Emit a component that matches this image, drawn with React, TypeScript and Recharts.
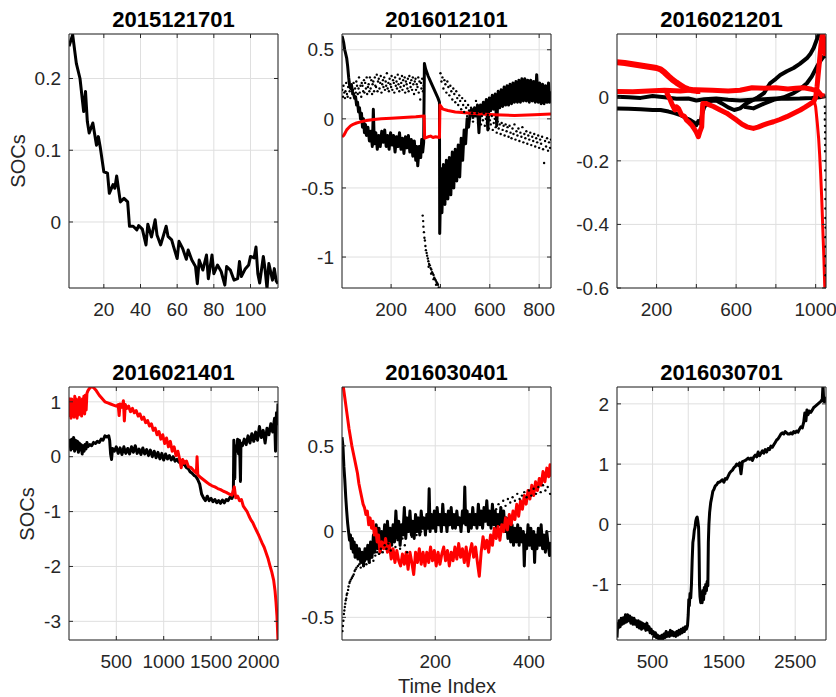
import React from "react";
import { ComposedChart, Line, Scatter, XAxis, YAxis, CartesianGrid } from "recharts";

type P = [number, number];

// ---- 2015121701
const p1Black: P[] = [[1,0.245],[3,0.261],[5,0.221],[7,0.2],[9,0.154],[10,0.182],[11,0.14],[12,0.124],[14,0.138],[16,0.107],[17,0.119],[18,0.105],[20,0.07],[22,0.068],[23,0.04],[25,0.052],[26,0.047],[27,0.064],[29,0.028],[31,0.033],[33,0.028],[34,-0.006],[36,-0.006],[38,-0.011],[39,-0.005],[41,-0.01],[43,-0.032],[44,-0.003],[46,-0.021],[48,0.003],[49,-0.018],[51,-0.032],[54,-0.006],[55,-0.02],[57,-0.025],[58,-0.034],[60,-0.051],[61,-0.027],[63,-0.037],[65,-0.052],[66,-0.039],[68,-0.053],[70,-0.062],[71,-0.086],[72,-0.053],[74,-0.067],[76,-0.046],[77,-0.079],[79,-0.046],[80,-0.072],[82,-0.06],[84,-0.069],[86,-0.088],[87,-0.062],[89,-0.067],[91,-0.081],[93,-0.079],[94,-0.055],[95,-0.076],[97,-0.066],[99,-0.06],[100,-0.048],[102,-0.05],[103,-0.035],[104,-0.072],[105,-0.085],[107,-0.048],[108,-0.067],[109,-0.093],[110,-0.058],[112,-0.081],[113,-0.065],[114,-0.082],[115,-0.086]];

// ---- 2016012101
const p2Black: P[] = [[1,0.6],[4,0.58],[8,0.55],[12,0.5],[16,0.47],[20,0.44],[24,0.38],[28,0.3],[32,0.24],[36,0.22],[40,0.24],[44,0.19],[48,0.18],[52,0.15],[56,0.16],[60,0.1],[64,0.12],[68,0.05],[72,0.08],[76,0.0],[80,0.04],[84,-0.06],[88,0.0],[92,-0.1],[96,-0.04],
  [100,-0.12],[106,-0.06],[112,-0.16],[118,-0.09],[124,-0.2],[128,0.07],[132,-0.18],[138,-0.1],[144,-0.22],[150,-0.12],[156,-0.2],[162,-0.09],[168,-0.17],[174,-0.08],[180,-0.2],[186,-0.12],[192,-0.22],[198,-0.1],[204,-0.19],[210,-0.12],[216,-0.24],[222,-0.13],[228,-0.2],[234,-0.1],[240,-0.22],[246,-0.14],[252,-0.25],[258,-0.13],[264,-0.21],[270,-0.12],[276,-0.24],[282,-0.15],[288,-0.27],[294,-0.16],[300,-0.3],[304,-0.2],[308,-0.34],[314,-0.2],[320,-0.28],[324,-0.15],[328,-0.24],[332,-0.17],
  [335,0.4],[340,0.36],[350,0.31],[360,0.27],[370,0.23],[380,0.19],[390,0.15],[396,0.12],
  [397,-0.83],[402,-0.36],[406,-0.68],[412,-0.33],[418,-0.62],[424,-0.3],[430,-0.58],[436,-0.28],[442,-0.55],[448,-0.24],[454,-0.5],[460,-0.22],[466,-0.45],[472,-0.19],[478,-0.42],[484,-0.14],[490,-0.3],[496,-0.08],[502,-0.18],[508,0.0],[514,-0.06],
  [520,0.04],[526,0.07],[532,0.01],[538,0.08],[544,0.02],[550,0.1],[556,-0.1],[562,0.1],[568,0.04],[574,0.12],[580,0.05],[586,0.14],[592,-0.08],[598,0.15],[604,0.06],[610,0.17],[616,0.07],[622,0.18],[628,-0.05],[634,0.2],[640,0.08],[646,0.21],[652,0.09],[658,0.23],[664,0.1],[670,0.24],[676,0.1],[682,0.25],[688,0.11],[694,0.26],[700,0.12],[706,0.27],[712,0.12],[718,0.28],[724,0.12],[730,0.29],[736,0.13],[742,0.29],[748,0.13],[754,0.28],[760,0.12],[766,0.28],[772,0.13],[778,0.27],[784,0.12],[790,0.32],[796,0.12],[802,0.26],[808,0.11],[814,0.25],[820,0.11],[826,0.24],[832,0.12],[838,0.26],[842,0.12],[848,0.2]];
const p2Red: P[] = [[1,-0.13],[8,-0.12],[14,-0.1],[20,-0.08],[28,-0.065],[36,-0.05],[46,-0.04],[60,-0.03],[80,-0.02],[100,-0.012],[130,-0.005],[160,0.0],[200,0.005],[250,0.01],[300,0.015],[334,0.02],[336,-0.14],[350,-0.13],[360,-0.125],[370,-0.135],[380,-0.13],[396,-0.135],[398,0.1],[410,0.07],[430,0.06],[460,0.05],[500,0.045],[560,0.035],[620,0.03],[700,0.025],[780,0.03],[848,0.035]];
const p2DotsA: P[] = [[2,0.21],[5,0.16],[7,0.24],[10,0.19],[13,0.15],[15,0.2],[18,0.26],[21,0.18],[24,0.16],[26,0.23],[29,0.27],[32,0.2],[35,0.15],[37,0.23],[40,0.25],[43,0.18],[46,0.21],[48,0.26],[51,0.16],[54,0.22],[57,0.19],[59,0.27],[62,0.24],[65,0.18],[68,0.22],[70,0.3],[73,0.19],[76,0.24],[79,0.16],[81,0.26],[84,0.24],[87,0.2],[90,0.28],[92,0.19],[95,0.26],[98,0.22],[101,0.3],[103,0.18],[106,0.23],[109,0.25],[112,0.2],[114,0.3],[117,0.22],[120,0.28],[123,0.18],[125,0.25],[128,0.27],[131,0.2],[134,0.3],[136,0.24],[139,0.23],[142,0.32],[145,0.2],[147,0.27],[150,0.29],[153,0.22],[156,0.26],[158,0.31],[161,0.19],[164,0.25],[167,0.28],[169,0.23],[172,0.3],[175,0.21],[178,0.27],[180,0.24],[183,0.33],[186,0.22],[189,0.26],[191,0.2],[194,0.29],[197,0.25],[200,0.23],[202,0.31],[205,0.21],[208,0.28],[211,0.26],[213,0.19],[216,0.3],[219,0.24],[222,0.27],[224,0.22],[227,0.32],[230,0.25],[233,0.2],[235,0.29],[238,0.23],[241,0.26],[244,0.31],[246,0.21],[249,0.28],[252,0.24],[255,0.3],[257,0.19],[260,0.27],[263,0.25],[266,0.22],[268,0.29],[271,0.2],[274,0.31],[277,0.26],[279,0.23],[282,0.28],[285,0.21],[288,0.3],[290,0.25],[293,0.18],[296,0.27],[299,0.29],[301,0.21],[304,0.25],[307,0.23],[310,0.3],[312,0.19],[315,0.27],[318,0.14],[321,0.26],[323,0.22],[326,0.29],[329,0.2],[332,0.24]];
const p2DotsB: P[] = [[400,0.33],[404,0.27],[408,0.3],[412,0.22],[416,0.28],[420,0.25],[424,0.19],[428,0.27],[432,0.23],[436,0.17],[440,0.24],[444,0.2],[448,0.14],[452,0.22],[456,0.18],[460,0.12],[464,0.2],[468,0.15],[472,0.1],[476,0.17],[480,0.13],[484,0.07],[488,0.15],[492,0.1],[496,0.05],[500,0.13],[504,0.08],[508,0.02],[512,0.1],[516,0.06],[520,0.0],[524,0.08],[528,0.04],[532,-0.02],[536,0.06],[540,0.02],[544,0.13],[548,0.04],[552,-0.03],[556,0.01],[560,0.05],[564,-0.04],[568,0.02],[572,-0.01],[576,0.04],[580,-0.05],[584,0.0],[588,-0.03],[592,0.03],[596,-0.07],[600,-0.01],[604,-0.04],[608,0.02],[612,-0.08],[616,-0.03],[620,0.0],[624,-0.06],[628,-0.1],[632,-0.02],[636,-0.07],[640,-0.04],[644,-0.11],[648,-0.03],[652,-0.08],[656,-0.05],[660,-0.12],[664,-0.04],[668,-0.09],[672,-0.06],[676,-0.13],[680,-0.05],[684,-0.1],[688,-0.14],[692,-0.07],[696,-0.11],[700,-0.04],[704,-0.15],[708,-0.09],[712,-0.12],[716,-0.07],[720,-0.16],[724,-0.1],[728,-0.13],[732,-0.06],[736,-0.17],[740,-0.11],[744,-0.14],[748,-0.09],[752,-0.18],[756,-0.12],[760,-0.15],[764,-0.1],[768,-0.19],[772,-0.13],[776,-0.16],[780,-0.11],[784,-0.2],[788,-0.14],[792,-0.17],[796,-0.12],[800,-0.21],[804,-0.15],[808,-0.18],[812,-0.13],[816,-0.22],[820,-0.32],[824,-0.16],[828,-0.2],[832,-0.14],[836,-0.23],[840,-0.17],[844,-0.21],[848,-0.15]];
const p2DotsC: P[] = [[328,-0.7],[330,-0.74],[331,-0.78],[333,-0.82],[335,-0.86],[337,-0.88],[339,-0.92],[341,-0.95],[344,-0.97],[346,-0.99],[349,-1.01],[351,-1.03],[354,-1.05],[357,-1.06],[360,-1.08],[363,-1.09],[366,-1.11],[369,-1.12],[372,-1.13],[375,-1.15],[378,-1.16],[381,-1.17],[384,-1.18],[387,-1.19],[390,-1.2],[393,-1.22],[396,-1.23],[352,-1.07],[362,-1.12],[372,-1.16],[382,-1.2],[392,-1.24]];

// ---- 2016021201
const p3BlackA: P[] = [[1,0.002],[60,0.0],[120,-0.002],[180,0.004],[240,0.0],[300,-0.005],[360,-0.004],[400,-0.01],[440,-0.006],[500,-0.004],[560,-0.008],[620,-0.01],[680,-0.008],[740,-0.006],[800,-0.004],[860,-0.005],[920,-0.004],[980,-0.002],[1020,0.0],[1050,0.004]];
const p3BlackB: P[] = [[1,-0.035],[60,-0.036],[120,-0.038],[180,-0.04],[220,-0.04],[260,-0.045],[290,-0.05],[320,-0.056],[350,-0.066],[370,-0.072],[390,-0.08],[400,-0.088],[410,-0.075],[420,-0.082],[430,-0.05],[440,-0.03],[470,-0.012],[500,-0.01],[530,-0.02],[560,-0.032],[590,-0.04],[620,-0.035],[650,-0.02],[680,-0.01],[710,0.0],[740,0.013],[771,0.044],[800,0.058],[822,0.07],[855,0.082],[889,0.092],[920,0.105],[956,0.123],[975,0.138],[990,0.155],[1005,0.18],[1015,0.197],[1025,0.196],[1035,0.185],[1045,0.16],[1050,0.14]];
const p3BlackC: P[] = [[640,-0.03],[687,-0.035],[740,-0.02],[788,-0.008],[840,0.0],[889,0.013],[920,0.025],[956,0.044],[980,0.065],[1007,0.097],[1025,0.115],[1040,0.128],[1050,0.13]];
const p3RedA: P[] = [[1,0.11],[40,0.108],[80,0.104],[120,0.1],[160,0.096],[200,0.092],[220,0.088],[240,0.078],[260,0.066],[280,0.055],[300,0.046],[320,0.038],[340,0.03],[360,0.025],[380,0.022],[400,0.02],[420,0.02]];
const p3RedB: P[] = [[1,0.018],[80,0.017],[160,0.02],[240,0.022],[320,0.02],[400,0.024],[480,0.022],[560,0.02],[620,0.022],[680,0.03],[740,0.028],[800,0.03],[860,0.026],[900,0.028],[940,0.03],[980,0.025],[1010,0.02],[1030,0.005],[1045,0.005]];
const p3RedC: P[] = [[250,0.015],[270,-0.01],[280,-0.025],[292,-0.04],[300,-0.03],[310,-0.035],[326,-0.056],[340,-0.06],[351,-0.072],[365,-0.08],[376,-0.087],[385,-0.095],[393,-0.103],[400,-0.11],[410,-0.124],[418,-0.108],[427,-0.093],[432,-0.02],[450,-0.02],[486,-0.029],[520,-0.04],[553,-0.05],[580,-0.062],[603,-0.072],[630,-0.085],[654,-0.093],[687,-0.098],[710,-0.094],[738,-0.087],[760,-0.082],[788,-0.077],[820,-0.07],[855,-0.061],[890,-0.05],[923,-0.04],[945,-0.032],[965,-0.024],[990,-0.014],[1000,0.0],[1007,0.034],[1014,0.08],[1020,0.118],[1026,0.16],[1032,0.192],[1036,0.196],[1040,0.186],[1045,0.15],[1050,0.13]];
const p3RedD: P[] = [[990,-0.005],[1000,-0.03],[1008,-0.08],[1015,-0.13],[1020,-0.18],[1025,-0.24],[1030,-0.31],[1034,-0.38],[1038,-0.45],[1041,-0.5],[1044,-0.56],[1046,-0.6],[1048,-0.62]];
const p3Dots: P[] = [[1046,-0.03],[1047,-0.05],[1046,-0.07],[1047,-0.09],[1048,-0.11],[1047,-0.13],[1048,-0.15],[1047,-0.17],[1048,-0.2],[1048,-0.23],[1049,-0.26],[1048,-0.29],[1049,-0.32],[1049,-0.35],[1049,-0.38],[1050,-0.41],[1049,-0.44],[1050,-0.47],[1050,-0.5],[1050,-0.53],[1050,-0.56]];

// ---- 2016021401
const p4Black: P[] = [[1,0.18],[10,0.3],[20,0.12],[30,0.32],[40,0.15],[50,0.35],[60,0.1],[70,0.3],[80,0.14],[90,0.28],[100,0.08],[110,0.25],[120,0.12],[130,0.22],[140,0.05],[150,0.2],[160,0.1],[170,0.22],[180,0.14],[190,0.26],[200,0.18],[220,0.22],[240,0.2],[260,0.26],[280,0.24],[300,0.28],[320,0.26],[340,0.32],[360,0.3],[380,0.38],[400,0.36],[420,0.38],[430,0.3],[440,0.05],[450,-0.05],[460,0.15],[480,0.1],[500,0.18],[520,0.06],[540,0.16],[560,0.04],[580,0.18],[600,0.06],[620,0.15],[640,0.05],[660,0.18],[680,0.08],[700,0.2],[720,0.06],[740,0.14],[760,0.04],[780,0.16],[800,0.05],[820,0.13],[840,0.02],[860,0.12],[880,0.0],[900,0.1],[920,-0.02],[940,0.08],[960,-0.04],[980,0.06],[1000,-0.06],[1020,0.05],[1040,-0.04],[1060,0.02],[1080,-0.06],[1100,0.0],[1120,-0.08],[1140,-0.05],[1160,-0.1],[1180,-0.08],[1200,-0.14],[1220,-0.15],[1240,-0.2],[1260,-0.22],[1280,-0.28],[1300,-0.3],[1320,-0.34],[1340,-0.36],[1360,-0.42],[1380,-0.5],[1400,-0.68],[1420,-0.75],[1440,-0.8],[1460,-0.72],[1480,-0.8],[1500,-0.76],[1520,-0.82],[1540,-0.78],[1560,-0.84],[1580,-0.8],[1600,-0.85],[1620,-0.79],[1640,-0.84],[1660,-0.78],[1680,-0.8],[1700,-0.74],[1720,-0.76],[1735,-0.7],[1740,0.3],[1750,-0.4],[1755,0.2],[1770,0.1],[1780,0.32],[1790,0.05],[1800,0.3],[1810,-0.45],[1815,0.25],[1830,0.2],[1850,0.32],[1870,0.22],[1890,0.38],[1910,0.25],[1930,0.42],[1950,0.28],[1970,0.45],[1990,0.3],[2010,0.55],[2030,0.35],[2050,0.48],[2070,0.25],[2090,0.52],[2110,0.4],[2130,0.6],[2150,0.45],[2170,0.7],[2180,0.1],[2190,0.8],[2200,0.6],[2206,0.97]];
const p4Red: P[] = [[1,1.08],[8,0.75],[15,1.02],[22,0.7],[30,1.05],[38,0.78],[46,1.0],[54,0.72],[62,1.1],[70,0.8],[78,1.05],[86,0.7],[94,0.98],[102,0.76],[110,1.08],[118,0.8],[126,1.02],[134,0.74],[142,1.05],[150,0.82],[158,1.1],[166,0.78],[174,1.12],[182,0.85],[190,1.15],[200,1.2],[215,1.24],[237,1.28],[260,1.26],[290,1.2],[320,1.12],[350,1.06],[380,1.0],[410,0.98],[440,0.96],[470,0.94],[500,0.92],[520,0.95],[530,0.75],[540,0.96],[560,0.9],[575,1.02],[585,0.65],[595,0.95],[610,0.88],[630,0.92],[650,0.82],[670,0.88],[690,0.8],[710,0.84],[730,0.74],[750,0.78],[770,0.68],[790,0.72],[810,0.62],[830,0.66],[850,0.56],[870,0.6],[890,0.48],[910,0.52],[930,0.4],[950,0.46],[970,0.32],[990,0.4],[1010,0.24],[1030,0.34],[1050,0.18],[1070,0.28],[1090,0.1],[1110,0.18],[1130,0.02],[1150,0.1],[1170,-0.06],[1185,-0.2],[1200,-0.05],[1220,-0.12],[1240,-0.08],[1260,-0.18],[1290,-0.2],[1320,-0.26],[1345,-0.3],[1352,0.0],[1360,-0.33],[1390,-0.38],[1420,-0.42],[1450,-0.46],[1480,-0.5],[1510,-0.53],[1540,-0.55],[1570,-0.58],[1600,-0.6],[1630,-0.63],[1660,-0.65],[1690,-0.68],[1720,-0.7],[1745,-0.55],[1760,-0.75],[1780,-0.72],[1800,-0.8],[1820,-0.78],[1840,-0.9],[1860,-0.95],[1880,-1.0],[1900,-1.08],[1920,-1.15],[1940,-1.2],[1960,-1.28],[1980,-1.35],[2000,-1.42],[2020,-1.5],[2040,-1.58],[2060,-1.65],[2080,-1.75],[2100,-1.85],[2120,-1.98],[2140,-2.1],[2160,-2.25],[2175,-2.45],[2185,-2.65],[2195,-2.9],[2200,-3.1],[2206,-3.35]];

// ---- 2016030401
const p5Black: P[] = [[1,0.55],[3,0.5],[5,0.38],[7,0.3],[9,0.2],[11,0.12],[13,0.05],[15,0.0],[17,-0.05],[19,-0.02],[21,-0.1],[23,-0.04],[25,-0.12],[27,-0.06],[29,-0.15],[32,-0.08],[35,-0.16],[38,-0.1],[41,-0.18],[44,-0.12],[47,-0.2],[50,-0.1],[53,-0.16],[56,-0.08],[59,-0.18],[62,-0.06],[65,-0.15],[68,-0.02],[71,-0.12],[74,0.04],[77,-0.1],[80,0.02],[83,-0.12],[86,0.0],[89,-0.08],[92,0.04],[95,-0.1],[98,0.06],[101,-0.06],[104,0.02],[107,-0.08],[110,0.04],[113,-0.06],[116,0.12],[119,-0.04],[122,0.06],[125,-0.08],[128,0.04],[131,-0.02],[134,0.14],[137,-0.04],[140,0.08],[143,0.0],[146,0.12],[149,-0.02],[152,0.06],[155,-0.04],[158,0.1],[161,0.0],[164,0.08],[167,-0.02],[170,0.12],[173,0.02],[176,0.08],[179,-0.02],[182,0.1],[185,0.02],[187,0.25],[189,0.0],[192,0.1],[195,0.02],[198,0.12],[201,0.0],[204,0.14],[207,0.04],[210,0.1],[213,0.0],[216,0.16],[219,0.04],[222,0.1],[225,0.0],[228,0.12],[231,0.04],[234,0.14],[237,0.02],[240,0.1],[243,0.02],[246,0.12],[249,0.04],[252,0.08],[255,0.0],[258,0.12],[261,0.05],[263,0.26],[265,0.04],[268,0.12],[271,0.0],[274,0.1],[277,0.02],[280,0.14],[283,0.04],[286,0.1],[289,0.02],[292,0.16],[295,0.04],[298,0.12],[301,0.02],[304,0.14],[307,0.06],[310,0.18],[313,0.04],[316,0.12],[319,0.02],[322,0.16],[325,0.04],[328,0.12],[331,0.02],[334,0.1],[337,0.04],[340,0.14],[343,0.02],[346,0.12],[349,0.0],[352,0.08],[355,-0.04],[358,0.06],[361,-0.06],[364,0.04],[367,-0.08],[370,0.02],[373,-0.06],[376,0.04],[379,-0.08],[382,0.02],[385,-0.06],[388,0.0],[390,-0.2],[392,-0.02],[395,-0.1],[398,0.04],[401,-0.08],[404,0.02],[407,-0.1],[410,0.0],[412,-0.18],[414,-0.02],[417,-0.1],[420,0.02],[423,-0.08],[426,0.04],[429,-0.1],[432,-0.02],[435,-0.12],[438,0.0],[441,-0.08],[444,-0.14],[447,-0.06]];
const p5Red: P[] = [[1,0.86],[4,0.84],[7,0.78],[10,0.72],[13,0.66],[16,0.6],[19,0.55],[22,0.5],[25,0.46],[28,0.42],[31,0.38],[34,0.34],[37,0.28],[40,0.24],[43,0.2],[46,0.16],[49,0.14],[52,0.1],[55,0.12],[58,0.04],[61,0.08],[64,0.02],[67,0.06],[70,-0.02],[73,0.02],[76,-0.06],[79,-0.02],[82,-0.12],[86,-0.06],[90,-0.1],[94,-0.04],[98,-0.12],[102,-0.07],[106,-0.16],[110,-0.1],[114,-0.18],[118,-0.11],[122,-0.17],[126,-0.2],[130,-0.13],[134,-0.19],[138,-0.12],[142,-0.22],[146,-0.12],[150,-0.18],[154,-0.25],[158,-0.12],[162,-0.18],[166,-0.1],[170,-0.19],[174,-0.12],[178,-0.2],[182,-0.12],[186,-0.18],[190,-0.09],[194,-0.17],[198,-0.11],[202,-0.2],[206,-0.12],[210,-0.19],[214,-0.13],[218,-0.09],[222,-0.17],[226,-0.11],[230,-0.2],[234,-0.12],[238,-0.17],[242,-0.09],[246,-0.16],[250,-0.07],[254,-0.15],[258,-0.1],[262,-0.18],[266,-0.09],[270,-0.2],[274,-0.12],[278,-0.07],[282,-0.15],[286,-0.09],[290,-0.18],[294,-0.26],[298,-0.12],[302,-0.03],[306,-0.1],[310,-0.05],[314,-0.12],[318,-0.02],[322,-0.08],[326,0.02],[330,-0.04],[334,0.03],[338,-0.05],[342,0.04],[346,0.0],[350,0.08],[354,0.01],[358,0.1],[362,0.04],[366,0.12],[370,0.07],[374,0.16],[378,0.09],[382,0.18],[386,0.13],[390,0.21],[394,0.16],[398,0.24],[402,0.19],[406,0.27],[410,0.21],[414,0.29],[418,0.24],[422,0.31],[426,0.27],[430,0.35],[434,0.29],[438,0.37],[442,0.32],[445,0.39],[447,0.32]];
const p5Dots: P[] = [[2,-0.58],[3,-0.55],[4,-0.52],[5,-0.48],[6,-0.46],[7,-0.44],[8,-0.42],[9,-0.4],[10,-0.39],[11,-0.37],[12,-0.36],[14,-0.34],[15,-0.32],[17,-0.3],[18,-0.29],[20,-0.28],[22,-0.27],[24,-0.26],[26,-0.25],[28,-0.23],[30,-0.22],[32,-0.21],[35,-0.2],[38,-0.19],[41,-0.21],[44,-0.18],[47,-0.2],[50,-0.17],[53,-0.19],[56,-0.16],[60,-0.18],[64,-0.15],[68,-0.17],[72,-0.14],[76,-0.12],[80,-0.13],[84,-0.1],[88,-0.12],[92,-0.08],[96,-0.1],[100,-0.07],[105,-0.11],[110,-0.06],[115,-0.09],[120,-0.05],[125,-0.1],[130,-0.04],[135,-0.08],[140,-0.12],[150,-0.03],[160,-0.02],[170,0.0],[180,0.02],[190,0.03],[200,0.02],[210,0.04],[220,0.05],[230,0.04],[240,0.06],[250,0.05],[260,0.07],[270,0.08],[280,0.07],[290,0.09],[300,0.1],[310,0.09],[320,0.11],[330,0.13],[335,0.16],[340,0.14],[345,0.18],[350,0.15],[355,0.19],[360,0.17],[365,0.2],[370,0.18],[375,0.22],[380,0.19],[385,0.21],[390,0.23],[395,0.2],[400,0.24],[405,0.21],[410,0.25],[415,0.22],[420,0.26],[425,0.23],[430,0.27],[435,0.24],[440,0.26],[445,0.22]];

// ---- 2016030701
const p6Black: P[] = [[1,-1.88],[10,-1.65],[20,-1.72],[30,-1.6],[45,-1.7],[60,-1.56],[75,-1.66],[90,-1.55],[105,-1.64],[120,-1.5],[135,-1.62],[150,-1.5],[165,-1.6],[180,-1.52],[195,-1.64],[210,-1.55],[225,-1.66],[240,-1.56],[255,-1.66],[270,-1.6],[285,-1.7],[300,-1.6],[315,-1.72],[330,-1.62],[345,-1.74],[360,-1.64],[375,-1.72],[390,-1.66],[405,-1.76],[420,-1.64],[435,-1.75],[450,-1.7],[465,-1.8],[480,-1.74],[495,-1.82],[510,-1.78],[525,-1.86],[540,-1.8],[555,-1.88],[570,-1.84],[585,-1.9],[600,-1.86],[615,-1.92],[630,-1.84],[645,-1.9],[660,-1.82],[675,-1.88],[690,-1.78],[705,-1.86],[720,-1.8],[735,-1.86],[750,-1.76],[765,-1.84],[780,-1.78],[795,-1.85],[810,-1.8],[825,-1.86],[840,-1.78],[855,-1.84],[870,-1.76],[885,-1.82],[900,-1.74],[915,-1.8],[930,-1.72],[945,-1.78],[960,-1.7],[975,-1.74],[990,-1.68],[1000,-1.5],[1008,-1.25],[1015,-1.35],[1025,-1.15],[1035,-1.22],[1045,-1.0],[1055,-0.6],[1065,-0.3],[1075,-0.22],[1085,-0.1],[1095,-0.05],[1105,0.05],[1115,0.1],[1125,0.12],[1135,0.05],[1145,-0.05],[1152,-0.4],[1158,-1.0],[1165,-1.2],[1175,-1.3],[1185,-1.15],[1195,-1.3],[1205,-1.1],[1215,-1.25],[1225,-1.05],[1235,-1.15],[1245,-1.0],[1255,-1.1],[1265,-0.95],[1275,-1.02],[1282,-0.3],[1290,0.0],[1300,0.2],[1315,0.36],[1330,0.45],[1345,0.55],[1360,0.58],[1380,0.64],[1400,0.66],[1420,0.7],[1440,0.7],[1460,0.72],[1480,0.74],[1500,0.7],[1520,0.76],[1540,0.75],[1560,0.8],[1580,0.85],[1600,0.88],[1620,0.9],[1640,0.94],[1660,0.96],[1680,1.0],[1700,0.98],[1720,1.02],[1740,0.84],[1760,1.04],[1780,1.05],[1800,1.06],[1820,1.08],[1840,1.1],[1860,1.08],[1880,1.1],[1900,1.06],[1920,1.12],[1940,1.15],[1960,1.12],[1980,1.2],[2000,1.14],[2020,1.18],[2040,1.22],[2060,1.18],[2080,1.24],[2100,1.2],[2120,1.26],[2140,1.24],[2160,1.3],[2180,1.28],[2200,1.32],[2220,1.36],[2240,1.4],[2260,1.42],[2280,1.46],[2300,1.5],[2320,1.52],[2340,1.5],[2360,1.54],[2380,1.52],[2400,1.5],[2420,1.5],[2440,1.52],[2460,1.5],[2480,1.54],[2500,1.52],[2520,1.55],[2540,1.53],[2560,1.58],[2580,1.62],[2600,1.6],[2620,1.7],[2635,1.85],[2650,1.72],[2665,1.9],[2680,1.82],[2700,1.88],[2720,1.86],[2740,1.9],[2760,1.94],[2780,1.96],[2800,1.98],[2820,2.0],[2840,2.02],[2860,2.04],[2880,2.08],[2890,2.32],[2900,2.04],[2915,2.1],[2932,2.02]];

const BLACK = "#000000";
const RED = "#ff0000";
const AXIS = "#262626";
const GRID = "#dfdfdf";
const FONT = "'Liberation Sans', Arial, Helvetica, sans-serif";

const PLOT_W = 209;
const Y_AXIS_W = 50;
const X_AXIS_H = 40;
const MARGIN = { top: 4, right: 10, bottom: 0, left: 0 };

type Series = { data: P[]; color: string; width: number };
type PanelDef = {
  title: string;
  left: number;
  top: number;
  height: number;
  xDomain: [number, number];
  yDomain: [number, number];
  xTicks: number[];
  yTicks: number[];
  xLabels?: number[];
  lines: Series[];
  dots?: P[];
};

const PANELS: PanelDef[] = [
  { title: "2015121701", left: 69, top: 34, height: 254, xDomain: [1, 115], yDomain: [-0.092, 0.262],
    xTicks: [20, 40, 60, 80, 100], yTicks: [0, 0.1, 0.2],
    lines: [{ data: p1Black, color: BLACK, width: 3 }] },
  { title: "2016012101", left: 342, top: 34, height: 254, xDomain: [1, 848], yDomain: [-1.224, 0.614],
    xTicks: [200, 400, 600, 800], yTicks: [-1, -0.5, 0, 0.5],
    dots: [...p2DotsA, ...p2DotsB, ...p2DotsC],
    lines: [{ data: p2Black, color: BLACK, width: 3 }, { data: p2Red, color: RED, width: 3 }] },
  { title: "2016021201", left: 617, top: 34, height: 254, xDomain: [1, 1052], yDomain: [-0.6, 0.199],
    xTicks: [200, 400, 600, 800, 1000], xLabels: [200, 600, 1000], yTicks: [-0.6, -0.4, -0.2, 0],
    dots: p3Dots,
    lines: [
      { data: p3BlackA, color: BLACK, width: 4 },
      { data: p3BlackB, color: BLACK, width: 4 },
      { data: p3BlackC, color: BLACK, width: 4 },
      { data: p3RedA, color: RED, width: 6 },
      { data: p3RedB, color: RED, width: 5 },
      { data: p3RedC, color: RED, width: 5 },
      { data: p3RedD, color: RED, width: 3 },
    ] },
  { title: "2016021401", left: 69, top: 387, height: 253, xDomain: [1, 2206], yDomain: [-3.34, 1.27],
    xTicks: [500, 1000, 1500, 2000], yTicks: [-3, -2, -1, 0, 1],
    lines: [{ data: p4Black, color: BLACK, width: 3 }, { data: p4Red, color: RED, width: 3 }] },
  { title: "2016030401", left: 342, top: 387, height: 253, xDomain: [1, 447], yDomain: [-0.632, 0.843],
    xTicks: [200, 400], yTicks: [-0.5, 0, 0.5],
    dots: p5Dots,
    lines: [{ data: p5Black, color: BLACK, width: 3 }, { data: p5Red, color: RED, width: 3 }] },
  { title: "2016030701", left: 617, top: 387, height: 253, xDomain: [1, 2932], yDomain: [-1.92, 2.28],
    xTicks: [500, 1000, 1500, 2000, 2500], xLabels: [500, 1500, 2500], yTicks: [-1, 0, 1, 2],
    lines: [{ data: p6Black, color: BLACK, width: 3 }] },
];

const toPts = (a: P[]) => a.map(([x, y]) => ({ x, y }));

const dotShape = (props: any) => <circle cx={props.cx} cy={props.cy} r={1.2} fill={BLACK} />;

function Panel({ def }: { def: PanelDef }) {
  const w = MARGIN.left + Y_AXIS_W + PLOT_W + 1 + MARGIN.right;
  const h = MARGIN.top + 1 + def.height + X_AXIS_H + MARGIN.bottom;
  const fmtX = (v: number) => (!def.xLabels || def.xLabels.includes(v) ? String(v) : "");
  const tickStyle = { fill: AXIS, fontSize: 19, fontFamily: FONT };
  const blank = () => "";
  return (
    <div style={{ position: "absolute", left: def.left - Y_AXIS_W - MARGIN.left, top: def.top - 1 - MARGIN.top }}>
      <ComposedChart width={w} height={h} margin={MARGIN}>
        <CartesianGrid stroke={GRID} />
        <XAxis type="number" dataKey="x" domain={def.xDomain} ticks={def.xTicks} allowDataOverflow interval={0}
          height={X_AXIS_H} tickSize={-4} tickMargin={19} tick={tickStyle} tickFormatter={fmtX}
          axisLine={{ stroke: AXIS }} tickLine={{ stroke: AXIS }} />
        <XAxis xAxisId="top" orientation="top" type="number" dataKey="x" domain={def.xDomain} ticks={def.xTicks}
          allowDataOverflow interval={0} height={1} tickSize={-4} tickFormatter={blank}
          axisLine={{ stroke: AXIS }} tickLine={{ stroke: AXIS }} />
        <YAxis type="number" dataKey="y" domain={def.yDomain} ticks={def.yTicks} allowDataOverflow interval={0}
          width={Y_AXIS_W} tickSize={-4} tickMargin={12} tick={tickStyle}
          axisLine={{ stroke: AXIS }} tickLine={{ stroke: AXIS }} />
        <YAxis yAxisId="right" orientation="right" type="number" dataKey="y" domain={def.yDomain} ticks={def.yTicks}
          allowDataOverflow interval={0} width={1} tickSize={-4} tickFormatter={blank}
          axisLine={{ stroke: AXIS }} tickLine={{ stroke: AXIS }} />
        {def.dots && (
          <Scatter data={toPts(def.dots)} fill={BLACK} shape={dotShape} isAnimationActive={false} />
        )}
        {def.lines.map((s, i) => (
          <Line key={i} data={toPts(s.data)} dataKey="y" type="linear" stroke={s.color} strokeWidth={s.width}
            strokeLinejoin="round" dot={false} activeDot={false} isAnimationActive={false} />
        ))}
      </ComposedChart>
    </div>
  );
}

export default function App() {
  return (
    <div style={{ position: "absolute", left: 0, top: 0, width: 836, height: 697, overflow: "hidden", background: "#fff", fontFamily: FONT }}>
      <style>{".recharts-surface{overflow:visible}"}</style>
      {PANELS.map((p) => (
        <Panel key={p.title} def={p} />
      ))}
      <svg width={836} height={697} style={{ position: "absolute", left: 0, top: 0, pointerEvents: "none" }} fontFamily={FONT}>
        {PANELS.map((p) => (
          <text key={p.title} x={p.left + PLOT_W / 2} y={p.top - 7} textAnchor="middle" fontSize={22} fontWeight="bold" fill="#000">
            {p.title}
          </text>
        ))}
        <text transform="translate(25,161) rotate(-90)" textAnchor="middle" fontSize={20} fill={AXIS}>SOCs</text>
        <text transform="translate(34,514) rotate(-90)" textAnchor="middle" fontSize={20} fill={AXIS}>SOCs</text>
        <text x={447} y={693} textAnchor="middle" fontSize={20} fill={AXIS}>Time Index</text>
      </svg>
    </div>
  );
}
